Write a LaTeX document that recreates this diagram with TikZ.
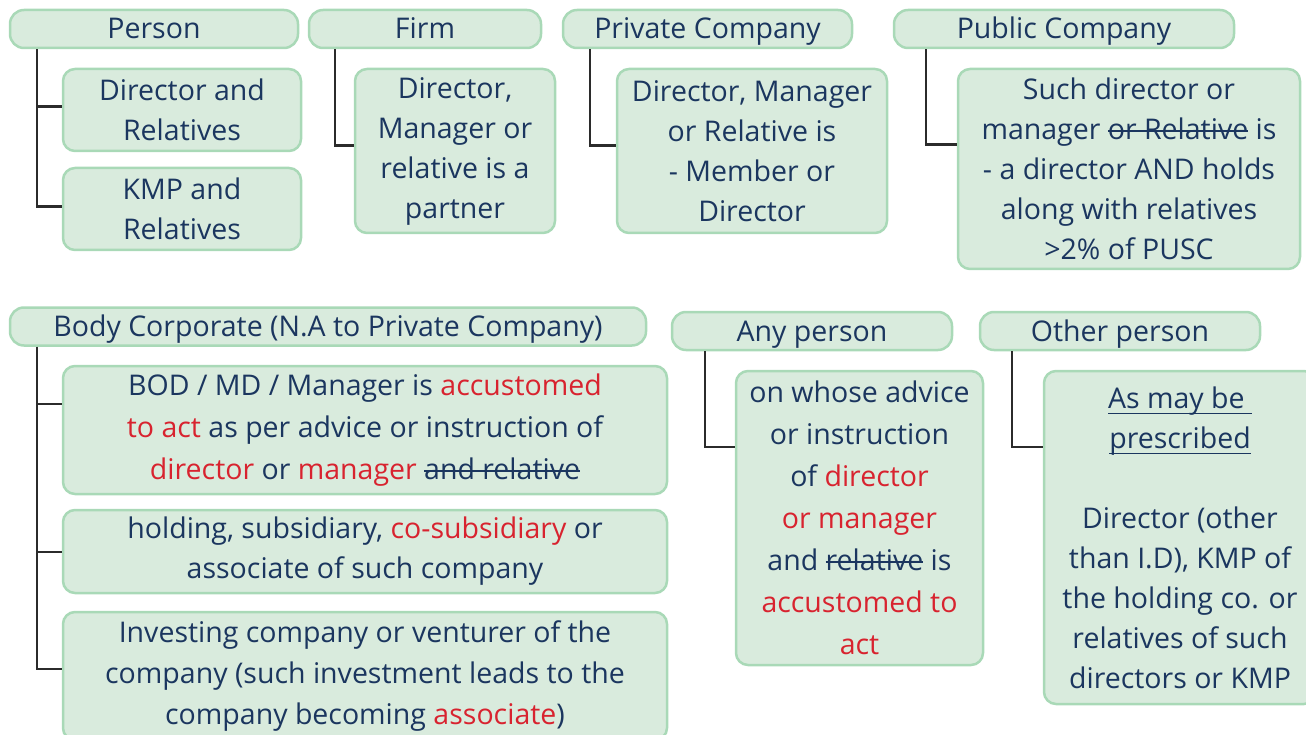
\documentclass[tikz,border=0pt]{standalone}
\usepackage{fontspec}
\setmainfont{Open Sans}
\definecolor{boxfill}{HTML}{D9EBDD}
\definecolor{boxline}{HTML}{A9D9B7}
\definecolor{navy}{HTML}{1B365F}
\definecolor{hot}{HTML}{D8232F}
\definecolor{linkgray}{HTML}{2B2B2B}
\newcommand{\hl}[1]{\textcolor{hot}{#1}}
\newsavebox{\markbox}
\newcommand{\strikeout}[1]{\sbox{\markbox}{#1}\rlap{\raisebox{0.27em}{\rule{\wd\markbox}{1.7pt}}}\usebox{\markbox}}
\newcommand{\underln}[1]{\sbox{\markbox}{#1}\rlap{\raisebox{-0.22em}{\rule{\wd\markbox}{1.4pt}}}\usebox{\markbox}}

\begin{document}
\begin{tikzpicture}[x=1pt,y=1pt,
  hdr/.style={draw=boxline,fill=boxfill,line width=2.5pt,rounded corners=14pt,minimum height=38pt,text=navy,font=\fontsize{28.5}{40}\selectfont,text height=24pt,text depth=4pt,inner sep=0pt},
  box/.style={draw=boxline,fill=boxfill,line width=2.5pt,rounded corners=12pt,text=navy,align=center,font=\fontsize{28.5}{40}\selectfont,inner sep=0pt},
  link/.style={draw=linkgray,line width=2.5pt}]
\useasboundingbox (0,0) rectangle (1306,-735);

\node[hdr,minimum width=288pt] (person) at (154,-29) {Person};
\node[hdr,minimum width=232pt] (firm) at (425,-29) {Firm};
\node[hdr,minimum width=289pt] (privco) at (707.5,-29) {Private Company};
\node[hdr,minimum width=340pt] (pubco) at (1064,-29) {Public Company};

\node[box,minimum width=238pt,minimum height=82pt] (dirrel) at (182,-110) {Director and\\ Relatives};
\node[box,minimum width=238pt,minimum height=82pt] (kmprel) at (182,-209) {KMP and\\ Relatives};
\node[box,minimum width=200pt,minimum height=164pt] (firmkid) at (455,-151) {Director,\\ Manager or\\ relative is a\\ partner};
\node[box,minimum width=270pt,minimum height=164pt] (privkid) at (752,-151) {Director, Manager\\ or Relative is\\ - Member or\\ Director};
\node[box,minimum width=342pt,minimum height=200pt] (pubkid) at (1129,-169) {Such director or\\ manager \strikeout{or Relative} is\\ - a director AND holds\\ along with relatives\\ >2\% of PUSC};

\node[hdr,minimum width=636pt] (body) at (328,-326.5) {Body Corporate (N.A to Private Company)};
\node[box,minimum width=604pt,minimum height=128pt,font=\fontsize{28.5}{42}\selectfont] (bod) at (365,-430) {BOD / MD / Manager is \hl{accustomed}\\ \hl{to act} as per advice or instruction of\\ \hl{director} or \hl{manager} \strikeout{and relative}};
\node[box,minimum width=604pt,minimum height=83pt] (hold) at (365,-551.5) {holding, subsidiary, \hl{co-subsidiary} or\\ associate of such company};
\node[box,minimum width=604pt,minimum height=128pt,font=\fontsize{28.5}{41}\selectfont] (invest) at (365,-676) {Investing company or venturer of the\\ company (such investment leads to the\\ company becoming \hl{associate})};

\node[hdr,minimum width=280pt] (anyp) at (812,-331) {Any person};
\node[box,minimum width=247pt,minimum height=294pt,font=\fontsize{28.5}{42}\selectfont] (anykid) at (859.5,-518) {on whose advice\\ or instruction\\ of \hl{director}\\ \hl{or manager}\\ and \strikeout{relative} is\\ \hl{accustomed to}\\ \hl{act}};

\node[hdr,minimum width=280pt] (otherp) at (1120,-331) {Other person};
\node[box,minimum width=272pt,minimum height=333pt] (otherkid) at (1180,-537.5) {\underln{As may be~}\\ \underln{prescribed}\\[40pt] Director (other\\ than I.D), KMP of\\ the holding co. or\\ relatives of such\\ directors or KMP};

\draw[link] ([xshift=28pt]person.south west) |- ([yshift=-39pt]dirrel.north west);
\draw[link] ([xshift=28pt]person.south west) |- ([yshift=-40pt]kmprel.north west);
\draw[link] ([xshift=27pt]firm.south west) |- ([yshift=-78pt]firmkid.north west);
\draw[link] ([xshift=28pt]privco.south west) |- ([yshift=-78pt]privkid.north west);
\draw[link] ([xshift=33pt]pubco.south west) |- ([yshift=-77pt]pubkid.north west);
\draw[link] ([xshift=28pt]body.south west) |- ([yshift=-39pt]bod.north west);
\draw[link] ([xshift=28pt]body.south west) |- ([yshift=-43pt]hold.north west);
\draw[link] ([xshift=28pt]body.south west) |- ([yshift=-58pt]invest.north west);
\draw[link] ([xshift=34pt]anyp.south west) |- ([yshift=-77pt]anykid.north west);
\draw[link] ([xshift=33pt]otherp.south west) |- ([yshift=-77pt]otherkid.north west);
\end{tikzpicture}
\end{document}
